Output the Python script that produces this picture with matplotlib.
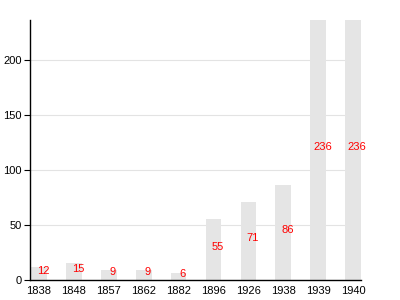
import matplotlib
matplotlib.use('Agg')
import matplotlib.pyplot as plt
import numpy as np

years = ['1838', '1848', '1857', '1862', '1882', '1896', '1926', '1938', '1939', '1940']
counts = [12, 15, 9, 9, 6, 55, 71, 86, 236, 236]
yticks = [0, 50, 100, 150, 200]

plt.rcParams['font.family'] = ['Liberation Sans', 'DejaVu Sans']

fig = plt.figure(figsize=(4, 3), dpi=100)
ax = fig.add_axes([0.075, 0.0667, 0.8275, 0.8667])

x = np.arange(len(years))
width = 0.45
ax.bar(x, counts, width=width, color='#e5e5e5', zorder=2)

# value labels in the middle of each bar
for xi, v in zip(x, counts):
    ax.annotate(str(v), (xi, v / 2), xytext=(3, 2), textcoords='offset points',
                ha='center', va='center', color='#ff0000', fontsize=8, zorder=3)

ax.set_xlim(-width / 2 - 0.03, len(years) - 1 + width / 2)
ax.set_ylim(0, max(counts))
ax.set_xticks(x)
ax.set_xticklabels(years, fontsize=8)
ax.set_yticks(yticks)
ax.set_yticklabels([str(t) for t in yticks], fontsize=8)
ax.tick_params(axis='x', length=0, pad=4)
ax.tick_params(axis='y', length=4, width=0.8, pad=2)
ax.yaxis.grid(True, color='#e3e3e3', linewidth=0.8, zorder=0)
ax.set_axisbelow(True)

for side in ['top', 'right']:
    ax.spines[side].set_visible(False)
ax.spines['left'].set_linewidth(1)
ax.spines['bottom'].set_linewidth(1)

fig.savefig('out.png', dpi=100)
